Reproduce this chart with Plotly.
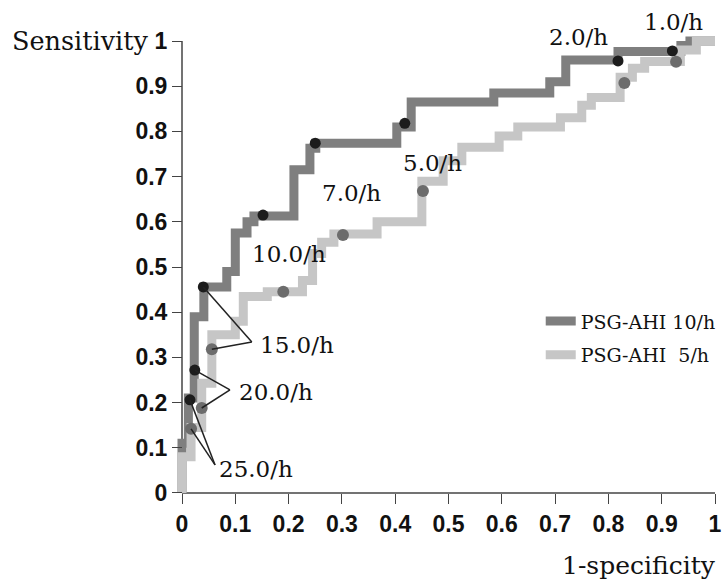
import plotly.graph_objects as go

# ROC step vertices (1-specificity, sensitivity), drawn with hv steps
dark_fpr = [0.0, 0.0, 0.012, 0.023, 0.041, 0.084, 0.100, 0.122, 0.135, 0.210, 0.240, 0.251,
            0.403, 0.430, 0.585, 0.690, 0.720, 0.818, 0.936, 0.953, 1.0]
dark_tpr = [0.0, 0.11, 0.21, 0.39, 0.456, 0.49, 0.575, 0.60, 0.613, 0.715, 0.763, 0.774,
            0.81, 0.865, 0.885, 0.91, 0.958, 0.977, 0.99, 1.0, 1.0]

light_fpr = [0.0, 0.0, 0.017, 0.037, 0.056, 0.100, 0.115, 0.160, 0.226, 0.245, 0.262, 0.285,
             0.366, 0.450, 0.490, 0.525, 0.595, 0.630, 0.710, 0.750, 0.768, 0.822, 0.845,
             0.868, 0.935, 0.965, 1.0]
light_tpr = [0.0, 0.08, 0.145, 0.243, 0.35, 0.38, 0.435, 0.445, 0.47, 0.53, 0.555, 0.573,
             0.60, 0.69, 0.735, 0.765, 0.79, 0.81, 0.83, 0.858, 0.875, 0.92, 0.94,
             0.955, 0.98, 1.0, 1.0]

# cut-off thresholds
thr_labels = ["25.0/h", "20.0/h", "15.0/h", "10.0/h", "7.0/h", "5.0/h", "2.0/h", "1.0/h"]
dark_thr_x = [0.015, 0.024, 0.040, 0.152, 0.250, 0.418, 0.818, 0.920]
dark_thr_y = [0.206, 0.272, 0.456, 0.615, 0.774, 0.818, 0.956, 0.978]
light_thr_x = [0.017, 0.037, 0.056, 0.190, 0.302, 0.452, 0.830, 0.927]
light_thr_y = [0.142, 0.188, 0.318, 0.445, 0.571, 0.668, 0.907, 0.954]

# label text positions (left, middle) and leader-line ends, in axis units
lab_x = [0.066, 0.103, 0.143, 0.128, 0.259, 0.411, 0.685, 0.863]
lab_y = [0.053, 0.223, 0.327, 0.529, 0.664, 0.730, 1.009, 1.042]
leader_end_x = [0.062, 0.090, 0.131]
leader_end_y = [0.062, 0.228, 0.334]

tick_vals = [round(i * 0.1, 1) for i in range(11)]
tick_text = ["0", "0.1", "0.2", "0.3", "0.4", "0.5", "0.6", "0.7", "0.8", "0.9", "1"]

DARK_LINE = "#7f7f7f"
LIGHT_LINE = "#c6c6c6"
DARK_MK = "#1c1c1c"
LIGHT_MK = "#6c6c6c"
SERIF = "DejaVu Serif"
SANS = "Liberation Sans"

W, H = 724, 583
ml, mr, mt, mb = 174, 1, 32, 81
xr = [-0.015, 1.015]
yr = [-0.02, 1.02]


def px_(v):
    return (v - xr[0]) / (xr[1] - xr[0])


def py_(v):
    return (v - yr[0]) / (yr[1] - yr[0])


fig = go.Figure()
fig.add_trace(go.Scatter(x=dark_fpr, y=dark_tpr, mode="lines", line_shape="hv",
                         line=dict(color=DARK_LINE, width=9), name="PSG-AHI 10/h",
                         legendgroup="a", hoverinfo="skip"))
fig.add_trace(go.Scatter(x=light_fpr, y=light_tpr, mode="lines", line_shape="hv",
                         line=dict(color=LIGHT_LINE, width=9), name="PSG-AHI\u00a0\u00a05/h",
                         legendgroup="b", hoverinfo="skip"))
fig.add_trace(go.Scatter(x=dark_thr_x, y=dark_thr_y, mode="markers",
                         marker=dict(color=DARK_MK, size=11), showlegend=False, cliponaxis=False))
fig.add_trace(go.Scatter(x=light_thr_x, y=light_thr_y, mode="markers",
                         marker=dict(color=LIGHT_MK, size=12), showlegend=False, cliponaxis=False))

shapes = []
# axis lines from 0 to 1
shapes.append(dict(type="line", xref="x", yref="y", x0=0, x1=1, y0=0, y1=0,
                   line=dict(color="#444", width=1.5), layer="below"))
shapes.append(dict(type="line", xref="x", yref="y", x0=0, x1=0, y0=0, y1=1,
                   line=dict(color="#444", width=1.5), layer="below"))
# leader lines
for i in range(3):
    for (mx, my) in ((dark_thr_x[i], dark_thr_y[i]), (light_thr_x[i], light_thr_y[i])):
        shapes.append(dict(type="line", xref="x", yref="y", x0=mx, y0=my,
                           x1=leader_end_x[i], y1=leader_end_y[i],
                           line=dict(color="#222", width=1.5), layer="above"))

annotations = []
for t, x, y in zip(thr_labels, lab_x, lab_y):
    annotations.append(dict(text=t, x=px_(x), y=py_(y), xref="paper", yref="paper",
                            xanchor="left", yanchor="middle", showarrow=False,
                            font=dict(family=SERIF, size=23, color="#111")))
annotations.append(dict(text="Sensitivity", x=px_(-0.060), y=py_(1.0), xref="paper", yref="paper",
                        xanchor="right", yanchor="middle", showarrow=False,
                        font=dict(family=SERIF, size=25.5, color="#111")))
annotations.append(dict(text="1-specificity", x=px_(1.005), y=py_(-0.161), xref="paper",
                        yref="paper", xanchor="right", yanchor="middle", showarrow=False,
                        font=dict(family=SERIF, size=25, color="#111")))

tickfont = dict(family=SANS, size=23, color="#111", weight="bold")

fig.update_layout(
    width=W, height=H, margin=dict(l=ml, r=mr, t=mt, b=mb),
    paper_bgcolor="white", plot_bgcolor="white",
    shapes=shapes, annotations=annotations,
    showlegend=True,
    legend=dict(x=0.668, y=0.425, xanchor="left", yanchor="top",
                font=dict(family=SERIF, size=19, color="#111"),
                bgcolor="rgba(0,0,0,0)", tracegroupgap=6, traceorder="grouped"),
    xaxis=dict(range=xr, tickvals=tick_vals, ticktext=tick_text, showgrid=False,
               zeroline=False, showline=False, ticks="outside", ticklen=10,
               tickcolor="#444", tickwidth=1.2, anchor="free", position=py_(0),
               tickfont=tickfont),
    yaxis=dict(range=yr, tickvals=tick_vals, ticktext=tick_text, showgrid=False,
               zeroline=False, showline=False, ticks="outside", ticklen=10,
               tickcolor="#444", tickwidth=1.2, anchor="free", position=px_(0),
               tickfont=tickfont),
)

fig.write_html("out.html")
